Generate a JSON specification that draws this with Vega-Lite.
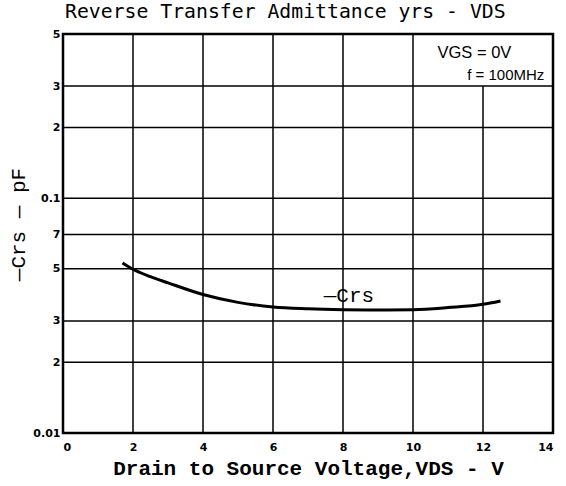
{
  "$schema": "https://vega.github.io/schema/vega-lite/v6.json",
  "width": 490,
  "height": 399,
  "autosize": {"type": "none"},
  "padding": {"left": 63, "top": 34, "right": 13, "bottom": 53},
  "background": "white",
  "config": {
    "view": {"stroke": "black", "strokeWidth": 2.5},
    "axis": {"grid": false, "domain": false, "ticks": false, "labelColor": "black", "titleColor": "black"}
  },
  "title": {
    "text": "Reverse Transfer Admittance yrs - VDS",
    "anchor": "start",
    "frame": "group",
    "offset": 6,
    "dx": 2,
    "font": "DejaVu Sans Mono",
    "fontSize": 19.8,
    "fontWeight": "normal",
    "color": "black"
  },
  "datasets": {
    "grid": [
      {"x": 2, "x2": 2, "y": 0.01, "y2": 0.5},
      {"x": 4, "x2": 4, "y": 0.01, "y2": 0.5},
      {"x": 6, "x2": 6, "y": 0.01, "y2": 0.5},
      {"x": 8, "x2": 8, "y": 0.01, "y2": 0.5},
      {"x": 10, "x2": 10, "y": 0.01, "y2": 0.5},
      {"x": 12, "x2": 12, "y": 0.01, "y2": 0.3},
      {"x": 0, "x2": 14, "y": 0.02, "y2": 0.02},
      {"x": 0, "x2": 14, "y": 0.03, "y2": 0.03},
      {"x": 0, "x2": 14, "y": 0.05, "y2": 0.05},
      {"x": 0, "x2": 14, "y": 0.07, "y2": 0.07},
      {"x": 0, "x2": 14, "y": 0.1, "y2": 0.1},
      {"x": 0, "x2": 14, "y": 0.2, "y2": 0.2},
      {"x": 0, "x2": 14, "y": 0.3, "y2": 0.3}
    ],
    "crs": [
      {"vds": 1.7, "c": 0.0530},
      {"vds": 2, "c": 0.0498},
      {"vds": 2.5, "c": 0.0463},
      {"vds": 3, "c": 0.0436},
      {"vds": 4, "c": 0.0389},
      {"vds": 5, "c": 0.0360},
      {"vds": 6, "c": 0.0344},
      {"vds": 7, "c": 0.0338},
      {"vds": 8, "c": 0.0335},
      {"vds": 9, "c": 0.0334},
      {"vds": 10, "c": 0.0335},
      {"vds": 11, "c": 0.0342},
      {"vds": 12, "c": 0.0353},
      {"vds": 12.5, "c": 0.0365}
    ],
    "notes": [
      {"x": 10.7, "y": 0.415, "t": "VGS = 0V", "size": 16.5},
      {"x": 11.55, "y": 0.335, "t": "f = 100MHz", "size": 15}
    ],
    "label": [
      {"x": 7.45, "y": 0.0385, "t": "—Crs"}
    ]
  },
  "layer": [
    {
      "data": {"name": "grid"},
      "mark": {"type": "rule", "color": "black", "strokeWidth": 1.5},
      "encoding": {
        "x": {
          "field": "x", "type": "quantitative",
          "scale": {"domain": [0, 14], "nice": false},
          "axis": {
            "values": [0, 2, 4, 6, 8, 10, 12, 14],
            "labelFont": "DejaVu Sans",
            "labelFontWeight": "bold",
            "labelFontSize": 11,
            "labelPadding": 8,
            "title": "Drain to Source Voltage,VDS - V",
            "titleFont": "Liberation Mono",
            "titleFontWeight": "bold",
            "titleFontSize": 21,
            "titlePadding": 5
          }
        },
        "x2": {"field": "x2"},
        "y": {
          "field": "y", "type": "quantitative",
          "scale": {"type": "log", "domain": [0.01, 0.5], "nice": false},
          "axis": {
            "values": [0.01, 0.02, 0.03, 0.05, 0.07, 0.1, 0.2, 0.3, 0.5],
            "labelExpr": "datum.value == 0.01 ? '0.01' : datum.value == 0.1 ? '0.1' : datum.value < 0.1 ? format(round(datum.value*100), 'd') : format(round(datum.value*10), 'd')",
            "labelFont": "DejaVu Sans",
            "labelFontWeight": "bold",
            "labelFontSize": 11,
            "labelPadding": 3,
            "title": "—Crs — pF",
            "titleFont": "Liberation Mono",
            "titleFontWeight": "normal",
            "titleFontSize": 21,
            "titleAngle": 270,
            "titleBaseline": "middle",
            "titleAlign": "center",
            "titleX": -45,
            "titleY": 190
          }
        },
        "y2": {"field": "y2"}
      }
    },
    {
      "data": {"name": "crs"},
      "mark": {"type": "line", "color": "black", "strokeWidth": 3, "interpolate": "monotone"},
      "encoding": {
        "x": {"field": "vds", "type": "quantitative"},
        "y": {"field": "c", "type": "quantitative"}
      }
    },
    {
      "data": {"name": "notes"},
      "mark": {"type": "text", "align": "left", "baseline": "middle", "font": "Liberation Sans", "color": "black"},
      "encoding": {
        "x": {"field": "x", "type": "quantitative"},
        "y": {"field": "y", "type": "quantitative"},
        "text": {"field": "t"},
        "size": {"field": "size", "type": "quantitative", "scale": null}
      }
    },
    {
      "data": {"name": "label"},
      "mark": {"type": "text", "align": "left", "baseline": "middle", "font": "Liberation Mono", "fontSize": 21, "color": "black"},
      "encoding": {
        "x": {"field": "x", "type": "quantitative"},
        "y": {"field": "y", "type": "quantitative"},
        "text": {"field": "t"}
      }
    }
  ]
}
